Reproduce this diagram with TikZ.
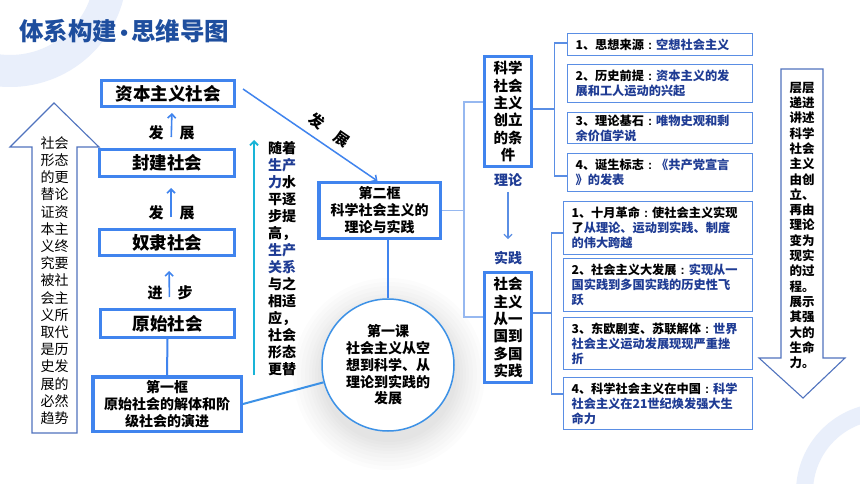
\documentclass[tikz,border=0pt]{standalone}
\usepackage{fontspec}
\setmainfont{Noto Sans CJK SC}
\newfontfamily\latinf{Liberation Sans}
\usetikzlibrary{arrows.meta}
\definecolor{titleblue}{RGB}{30,78,158}
\definecolor{boxblue}{RGB}{64,132,238}
\definecolor{thinblue}{RGB}{90,142,228}
\definecolor{brkblue}{RGB}{150,184,240}
\definecolor{hlblue}{RGB}{31,60,148}
\definecolor{arrowgray}{RGB}{80,115,190}
\definecolor{cyanline}{RGB}{25,180,215}
\definecolor{ringblue}{RGB}{233,239,251}
\definecolor{circblue}{RGB}{60,145,230}
\newcommand{\hlt}[1]{\textcolor{hlblue}{#1}}
\newcommand{\fs}[2]{\fontsize{#1}{#2}\selectfont}
\newcommand{\cc}{\makebox[1em][c]{\latinf\bfseries :}}
\begin{document}
\begin{tikzpicture}[x=1pt,y=-1pt,
  mainbox/.style={draw=boxblue,line width=3pt,fill=white,inner sep=0pt,font=\bfseries\fs{17.5}{20}},
  framebox/.style={draw=boxblue,line width=3.5pt,fill=white,inner sep=0pt,align=center,font=\bfseries\fs{14}{17}},
  colbox/.style={draw=boxblue,line width=3pt,fill=white,inner sep=0pt,align=center,minimum width=47pt,minimum height=110pt,font=\bfseries\fs{14.5}{17.3}},
  topic/.style={draw=thinblue,line width=1.2pt,fill=white,inner xsep=8pt,inner ysep=0pt,align=left,font=\bfseries\fs{12.2}{15}},
  upar/.style={draw=boxblue,line width=1.6pt,-{Straight Barb[length=4pt,width=8pt]}},
  thinar/.style={draw=thinblue,line width=1.2pt,-{Straight Barb[length=4pt,width=8pt]}},
  cyanar/.style={draw=cyanline,line width=1.8pt,-{Straight Barb[length=4pt,width=8pt]}},
  conn/.style={draw=boxblue,line width=2pt},
  brk/.style={draw=brkblue,line width=1.2pt},
  brk2/.style={draw=thinblue,line width=1.2pt},
  devlabel/.style={inner sep=0pt,font=\bfseries\fs{15}{18}},
  coltext/.style={align=center,inner sep=0pt},
  bigarrow/.style={draw=arrowgray,line width=1.1pt,fill=white}
]
\useasboundingbox (0,0) rectangle (860,484);
\fill[white] (0,0) rectangle (860,484);
% background rings
\begin{scope}
\clip (0,0) rectangle (860,484);
\fill[ringblue,even odd rule] (10,-30) circle[radius=117pt] (10,-30) circle[radius=85pt];
\fill[ringblue,even odd rule] (885,492) circle[radius=89pt] (885,492) circle[radius=72pt];
\end{scope}

% title
\node[anchor=west,inner sep=0pt,text=titleblue,font=\bfseries\fs{24.5}{28}] (title) at (19,31.5) {体系构建\makebox[14pt][c]{\latinf\bfseries\fs{22}{28}•}思维导图};

% left big up arrow
\draw[bigarrow] (32,433) -- (32,147) -- (10,147) -- (54,103) -- (99,147) -- (77,147) -- (77,433) -- cycle;
\node[coltext,font=\fs{14}{17.2}] (lefttext) at (54.5,280.5) {社会\\形态\\的更\\替论\\证资\\本主\\义终\\究要\\被社\\会主\\义所\\取代\\是历\\史发\\展的\\必然\\趋势};

% main boxes
\node[mainbox,minimum width=133pt,minimum height=26pt] (cap) at (168,93.5) {资本主义社会};
\node[mainbox,minimum width=135pt,minimum height=27pt] (feud) at (167,163) {封建社会};
\node[mainbox,minimum width=135pt,minimum height=26pt] (slave) at (167,242.5) {奴隶社会};
\node[mainbox,minimum width=134pt,minimum height=28pt] (prim) at (167.5,323.5) {原始社会};
\node[framebox,minimum width=148.5pt,minimum height=54.5pt] (frame1) at (167,404) {第一框\\原始社会的解体和阶\\级社会的演进};

\draw[upar,shorten <=11pt,shorten >=5pt] ([xshift=4pt]feud.north) -- ([xshift=4pt]cap.south);
\draw[upar,shorten <=11pt,shorten >=10pt] ([xshift=4pt]slave.north) -- ([xshift=4pt]feud.south);
\draw[upar,shorten <=11pt,shorten >=14pt] ([xshift=2pt]prim.north) -- ([xshift=2pt]slave.south);
\node[devlabel] (d1a) at (156,133) {发};
\node[devlabel] (d1b) at (187,133) {展};
\node[devlabel] (d2a) at (156,213) {发};
\node[devlabel] (d2b) at (187,213) {展};
\node[devlabel] (d3a) at (155,293) {进};
\node[devlabel] (d3b) at (185,293) {步};
\draw[conn] (prim.south) -- (frame1.north);

% cyan arrow and text
\coordinate (cyanS) at (254,375);
\coordinate (cyanE) at (254,140);
\draw[cyanar] (cyanS) -- (cyanE);
\node[coltext,font=\bfseries\fs{14}{17}] (cyantext) at (282,258.5) {随着\\\hlt{生产}\\\hlt{力}水\\平逐\\步提\\高，\\\hlt{生产}\\\hlt{关系}\\与之\\相适\\应，\\社会\\形态\\更替};

% second frame and circle
\node[framebox,minimum width=121.5pt,minimum height=55.5pt] (frame2) at (379.5,210.5) {第二框\\科学社会主义的\\理论与实践};
\foreach \r in {96,92,88,84,80,77,74,71,68}
  \fill[black,opacity=0.012] (389,374) circle[radius=\r pt];
\node[circle,draw=circblue,line width=1.5pt,fill=white,minimum size=132pt,inner sep=0pt,align=center,font=\bfseries\fs{14}{16.7}] (circ) at (388,365) {第一课\\社会主义从空\\想到科学、从\\理论到实践的\\发展};
\draw[conn,draw=circblue] (frame1.east) -- (circ);
\draw[conn] (frame2.south -| circ.north) -- (circ.north);
\draw[upar,line width=1.5pt] ([xshift=7pt,yshift=4.5pt]cap.east) -- node[pos=0.58,sloped,above=7pt,devlabel]{发\hspace{16pt}展} ([xshift=-2pt]frame2.north);

% condition / practice column boxes
\node[colbox] (cond) at (508,111.5) {科学\\社会\\主义\\创立\\的条\\件};
\node[colbox] (pract) at (508,327.5) {社会\\主义\\从一\\国到\\多国\\实践};
\node[inner sep=0pt,text=hlblue,font=\bfseries\fs{14}{16}] (theory) at (508,180) {理论};
\node[inner sep=0pt,text=hlblue,font=\bfseries\fs{14}{16}] (practice) at (508,258) {实践};
\draw[thinar,shorten <=5pt,shorten >=12pt] (theory.south) -- (practice.north);
\draw[brk] ([yshift=9.5pt]cond.west) -- ++(-19,0) |- (frame2.east);
\draw[brk] ([yshift=10.5pt]pract.west) -- ++(-19,0) |- (frame2.east);

% topic boxes (theory)
\node[topic,text width=168.8pt,minimum height=21.8pt] (b1) at (660,44.5) {1、思想来源\cc\hlt{空想社会主义}};
\node[topic,text width=168.8pt,minimum height=37.8pt] (b2) at (660,83.5) {2、历史前提\cc\hlt{资本主义的发}\\\hlt{展和工人运动的兴起}};
\node[topic,text width=168.8pt,minimum height=30.8pt] (b3) at (660,128) {3、理论基石\cc\hlt{唯物史观和剩}\\\hlt{余价值学说}};
\node[topic,text width=168.8pt,minimum height=37.8pt] (b4) at (660,172.5) {4、诞生标志\cc\hlt{《共产党宣言}\\\hlt{》的发表}};
\path ([yshift=2.5pt]cond.east) ++(21.5,0) coordinate (tj);
\draw[brk2] ([yshift=2.5pt]cond.east) -- (tj);
\draw[brk2] ([yshift=1.5pt]b1.west) -| (tj);
\draw[brk2] ([yshift=-3.5pt]b4.west) -| (tj);

% topic boxes (practice)
\node[topic,text width=172.8pt,minimum height=52.8pt] (c1) at (658,228) {1、十月革命\cc 使社会主义实现\\了\hlt{从理论、运动到实践、制度}\\\hlt{的伟大跨越}};
\node[topic,text width=172.8pt,minimum height=52.8pt] (c2) at (658,285) {2、社会主义大发展\cc\hlt{实现从一}\\\hlt{国实践到多国实践的历史性飞}\\\hlt{跃}};
\node[topic,text width=172.8pt,minimum height=51.8pt] (c3) at (658,343.5) {3、东欧剧变、苏联解体\cc\hlt{世界}\\\hlt{社会主义运动发展现现严重挫}\\\hlt{折}};
\node[topic,text width=172.8pt,minimum height=51.8pt] (c4) at (658,403.5) {4、科学社会主义在中国\cc\hlt{科学}\\\hlt{社会主义在21世纪焕发强大生}\\\hlt{命力}};
\path ([yshift=14.5pt]pract.east) ++(18.5,0) coordinate (bj);
\draw[brk2] ([yshift=14.5pt]pract.east) -- (bj);
\draw[brk2] ([yshift=-5pt]c1.west) -| (bj);
\draw[brk2] ([yshift=9.5pt]c4.west) -| (bj);

% right big down arrow
\draw[bigarrow] (781,69) -- (823,69) -- (823,358) -- (845,358) -- (803,398) -- (759,358) -- (781,358) -- cycle;
\node[coltext,font=\bfseries\fs{12.5}{15.3}] (rtext) at (802,225.5) {层层\\递进\\讲述\\科学\\社会\\主义\\由创\\立、\\再由\\理论\\变为\\现实\\的过\\程。\\展示\\其强\\大的\\生命\\力。};
\end{tikzpicture}
\end{document}
